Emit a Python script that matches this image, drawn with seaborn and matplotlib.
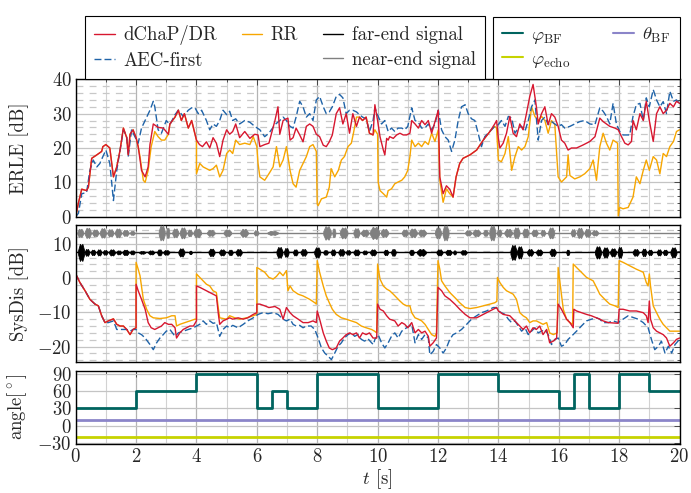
import numpy as np
import matplotlib
matplotlib.use('Agg')
import matplotlib.pyplot as plt
import seaborn as sns
from matplotlib.lines import Line2D
from matplotlib.ticker import MultipleLocator

sns.set_style('white')
plt.rcParams['font.family'] = ['cmr10', 'DejaVu Serif']
plt.rcParams['mathtext.fontset'] = 'cm'
plt.rcParams['axes.formatter.use_mathtext'] = True
plt.rcParams['font.size'] = 13.5

# ---- data (time in s, values in dB / degrees) ----
erle_dr = [(0,0),(0.09,4),(0.2,8),(0.36,7.6),(0.42,8.6),(0.53,17),(0.7,18),(0.86,19),(0.9,20.4),(1.0,21),
    (1.13,20),(1.25,11.6),(1.36,14.5),(1.47,19.4),(1.58,25.8),(1.69,23),(1.74,18),(1.8,24),(1.9,25.3),(2.0,23),
    (2.07,20.4),(2.18,13.5),(2.3,11.6),(2.4,14.5),(2.46,21),(2.57,27),(2.73,26),(2.9,25.8),(3.07,24),(3.12,27),
    (3.29,29),(3.4,31),(3.5,28),(3.6,30),(3.73,25.8),(3.84,28),(3.95,24),(4.0,22.3),(4.1,21),(4.2,20.4),
    (4.33,21.8),(4.44,20),(4.55,23),(4.66,21.4),(4.77,17.5),(4.88,22.3),(5.0,25.3),(5.1,24),(5.2,24.8),(5.3,27),
    (5.43,23),(5.6,24.8),(5.77,22.8),(5.93,24),(6.04,23.8),(6.1,20.4),(6.26,21),(6.4,21.4),(6.6,28),(6.7,32),
    (6.76,24),(6.87,28),(7.03,28.7),(7.1,22.3),(7.2,23),(7.3,25.8),(7.42,23.8),(7.53,21.8),(7.64,26.3),(7.75,27),
    (7.86,26.3),(7.97,24),(8.08,23.3),(8.2,20.8),(8.3,20.4),(8.4,21.8),(8.5,23.8),(8.63,30),(8.74,31.7),(8.85,27),
    (8.96,30),(9.07,24.3),(9.18,30),(9.3,26.3),(9.4,29),(9.5,28),(9.62,29),(9.73,24.3),(9.85,23.8),(9.91,32.6),
    (10.0,28),(10.08,23.3),(10.19,19.4),(10.24,18),(10.3,22.8),(10.35,22.3),(10.4,23.3),(10.52,22.8),(10.63,23.8),
    (10.74,24.3),(10.85,23.8),(10.96,23.8),(11.07,24.3),(11.13,28),(11.24,27),(11.35,25.8),(11.46,28),(11.57,26.8),
    (11.68,28),(11.79,24.3),(11.9,27.7),(12.01,31),(12.06,11.6),(12.17,6.7),(12.28,9),(12.39,8),(12.5,5.7),
    (12.6,11.6),(12.72,15.5),(12.83,17),(13.06,18),(13.28,19.4),(13.5,22.3),(13.72,24.8),(13.88,27),(13.94,28),
    (14.0,22.8),(14.05,20),(14.16,21.4),(14.27,24.3),(14.38,29.2),(14.49,24.3),(14.6,23.3),(14.71,27),(14.82,25.3),
    (14.93,30),(15.04,35),(15.15,38.5),(15.21,35),(15.26,32),(15.32,27),(15.43,30),(15.54,32),(15.65,26.8),
    (15.76,30),(15.87,29),(15.98,26.3),(16.09,22.3),(16.2,21.4),(16.31,19.4),(16.42,20),(16.59,20),(16.81,20.9),
    (17.03,21.9),(17.2,23.3),(17.36,28.7),(17.47,27.7),(17.58,27),(17.69,26.3),(17.86,25.8),(17.97,25.3),
    (18.08,23.3),(18.19,21.4),(18.3,20.9),(18.41,21.9),(18.46,28),(18.57,25.3),(18.69,30),(18.8,28),(18.9,33.6),
    (19.0,28),(19.13,21.9),(19.24,30),(19.35,32),(19.46,30),(19.57,31),(19.68,33),(19.8,32),(19.9,33.6),(20.0,33)]

erle_aec = [(0,0),(0.09,1),(0.2,6.7),(0.36,7),(0.47,13.5),(0.58,16.5),(0.7,14.5),(0.8,15.5),(0.9,17.5),(1.0,19.4),
    (1.13,15.5),(1.25,4.7),(1.36,13.5),(1.47,19.4),(1.58,25.3),(1.69,23.3),(1.74,17.5),(1.85,25.3),(1.96,23.3),
    (2.07,21.4),(2.18,25.8),(2.3,28),(2.46,31),(2.57,33.6),(2.62,32),(2.73,25.3),(2.84,24.3),(3.0,28),(3.12,26.8),
    (3.29,29.7),(3.4,31),(3.56,29.2),(3.73,31),(3.84,31.7),(3.95,31.7),(4.06,30),(4.17,31),(4.33,28),(4.44,25.3),
    (4.55,27),(4.66,26.3),(4.77,28),(4.88,31),(5.0,29.7),(5.1,30.7),(5.2,28),(5.3,28.5),(5.43,27),(5.6,28),
    (5.77,27.5),(5.93,26.3),(6.1,25.3),(6.26,23.3),(6.4,24.3),(6.6,26.8),(6.76,28),(6.87,29),(6.98,28),(7.1,26.3),
    (7.2,25.8),(7.3,29),(7.42,33.6),(7.53,32),(7.64,29),(7.75,30),(7.86,28),(7.97,34),(8.08,35),(8.2,32),(8.3,30),
    (8.4,30.5),(8.5,32),(8.63,35),(8.74,35.6),(8.85,34.6),(8.96,30),(9.07,31),(9.18,31),(9.3,30.5),(9.4,29.7),
    (9.5,29),(9.62,28.5),(9.73,24.8),(9.85,28),(9.91,31.7),(10.02,29.2),(10.13,27),(10.24,28),(10.35,24.8),
    (10.46,25.8),(10.57,24.8),(10.68,25.8),(10.8,25.8),(10.9,25.3),(11.0,26.3),(11.13,31.7),(11.24,28),(11.35,27.5),
    (11.46,25.8),(11.57,25.8),(11.68,27),(11.79,25.3),(11.9,27),(12.01,31),(12.12,25.3),(12.23,23.3),(12.34,22.3),
    (12.45,19),(12.56,22.3),(12.67,28),(12.78,32),(12.9,32.6),(13.0,30),(13.11,28.5),(13.22,28),(13.33,24.3),
    (13.44,20.4),(13.55,23.3),(13.66,24.3),(13.77,25.3),(13.88,26.3),(14.0,26.8),(14.1,28),(14.22,26.3),(14.33,29.2),
    (14.44,28.7),(14.55,24.3),(14.66,25.8),(14.77,26.3),(14.88,24.8),(14.99,28),(15.1,32),(15.21,34),(15.32,22.3),
    (15.43,28),(15.54,29),(15.65,26.8),(15.76,27.7),(15.87,27),(15.98,26.3),(16.09,26.8),(16.2,25.8),(16.37,26.3),
    (16.53,27),(16.7,27.7),(16.86,28),(17.03,27),(17.2,26.8),(17.36,31.7),(17.47,30.7),(17.58,29.2),(17.69,27),
    (17.8,33),(17.91,27),(18.02,24.8),(18.13,23.8),(18.25,23.8),(18.35,23.8),(18.46,29.2),(18.57,32.6),(18.69,33),
    (18.8,28),(18.9,34.6),(19.0,32),(19.13,37),(19.24,34),(19.35,32),(19.46,33.5),(19.57,30),(19.68,36.5),
    (19.8,33.6),(19.9,34),(20.0,33)]

erle_rr = [(0,0),(0.09,4),(0.2,8),(0.36,7.6),(0.42,8.6),(0.53,17),(0.7,18),(0.86,19),(0.9,20.4),(1.0,21),
    (1.13,20),(1.25,11.6),(1.36,14.5),(1.47,19.4),(1.58,25.8),(1.69,23),(1.74,18),(1.8,24),(1.9,25.3),(2.0,23),
    (2.07,20.4),(2.13,17.5),(2.24,10.6),(2.3,10),(2.4,13.5),(2.5,20.4),(2.62,24.8),(2.73,23.3),(2.84,22.3),
    (2.95,22.3),(3.07,24),(3.12,27),(3.29,29),(3.4,31),(3.5,28),(3.6,30),(3.73,25.8),(3.84,28),(3.95,24),(4.0,22.3),
    (4.0,12.5),(4.11,15.5),(4.22,14.5),(4.33,14),(4.44,13.5),(4.55,14),(4.66,15),(4.77,11.6),(4.88,13.5),(5.0,18.4),
    (5.1,19.4),(5.2,18.4),(5.3,22.3),(5.43,21),(5.6,21.4),(5.77,21),(5.88,23.3),(6.0,20.4),(6.04,15.5),(6.1,11.6),
    (6.26,10.6),(6.4,12.5),(6.54,14.5),(6.65,20.4),(6.76,14.5),(6.87,16.5),(6.98,20.4),(7.1,13.5),(7.2,9.6),
    (7.3,8.6),(7.42,13.5),(7.53,15.5),(7.64,17.5),(7.75,20.4),(7.86,21),(7.97,19),(8.0,3.7),(8.03,3.2),(8.14,5.2),
    (8.3,5.7),(8.4,8.6),(8.46,14),(8.58,11.6),(8.7,13.5),(8.8,16.5),(8.9,17.5),(9.02,20.4),(9.13,21.4),(9.2,24.3),
    (9.3,29),(9.4,29),(9.5,28),(9.62,29),(9.73,24.3),(9.85,23.8),(9.91,25.3),(10.0,24),(10.02,10),(10.08,7.6),
    (10.19,6.7),(10.3,5.7),(10.35,7.6),(10.46,8.1),(10.57,9.6),(10.68,10.1),(10.8,10.6),(10.9,11.6),(11.0,13.5),
    (11.07,17.5),(11.13,22.3),(11.24,20.4),(11.35,21.4),(11.46,20.4),(11.57,21.9),(11.68,21),(11.79,24.3),
    (11.9,21.9),(12.01,25.3),(12.06,10.6),(12.17,4.2),(12.28,8.1),(12.39,6.7),(12.5,5.7),(12.6,11.6),(12.72,15.5),
    (12.83,17),(13.06,18),(13.28,19.4),(13.5,22.3),(13.72,24.8),(13.88,26.3),(13.94,25.8),(14.0,16.5),(14.1,16),
    (14.22,18.4),(14.33,23.3),(14.44,13.5),(14.55,17.5),(14.66,20.4),(14.77,19.4),(14.88,20.4),(14.99,23.3),
    (15.1,32),(15.21,29.2),(15.32,28),(15.43,29.2),(15.54,28),(15.65,24.3),(15.76,28),(15.87,26.8),(15.98,11.6),
    (16.09,10.1),(16.26,11.6),(16.31,18),(16.37,12),(16.53,11),(16.7,11.6),(16.86,12.5),(17.03,14),(17.14,16.5),
    (17.25,10.6),(17.36,20.4),(17.47,24.3),(17.58,21.4),(17.69,19.4),(17.8,22.3),(17.95,21.4),(17.97,0.2),
    (18.02,2.7),(18.13,2.3),(18.3,2.7),(18.46,5.7),(18.57,11.6),(18.69,9.6),(18.8,13.5),(18.9,16.5),(19.0,13.5),
    (19.13,17.5),(19.24,16.5),(19.35,12.5),(19.46,18.4),(19.57,17.5),(19.68,20.4),(19.8,21.9),(19.9,24.8),(20.0,25.3)]

sysdis_dr = [(0,1.2),(0.14,-1.3),(0.31,-3.7),(0.47,-6.2),(0.64,-7.6),(0.75,-8.1),(0.86,-11),(0.97,-13),(1.08,-12.5),
    (1.25,-11.9),(1.36,-13.5),(1.47,-14),(1.58,-14),(1.69,-15),(1.8,-16.5),(1.9,-15),(2.0,-14.5),(2.0,-1.8),
    (2.07,-3.7),(2.18,-6.2),(2.3,-9.1),(2.4,-13),(2.5,-14.5),(2.62,-15),(2.73,-14.5),(2.84,-14),(2.95,-13),
    (3.07,-13.5),(3.18,-13.5),(3.29,-14.5),(3.34,-17.5),(3.45,-16),(3.56,-15),(3.67,-14.5),(3.78,-14),(3.9,-14),
    (4.0,-12.5),(4.0,-2.3),(4.11,-2.7),(4.22,-3.2),(4.33,-3.7),(4.44,-4.2),(4.55,-4.7),(4.66,-5.2),(4.72,-10.1),
    (4.77,-13.5),(4.88,-12.5),(5.0,-12),(5.1,-11.6),(5.2,-12),(5.38,-11.6),(5.55,-12),(5.7,-11.6),(5.88,-10.6),
    (6.0,-10.1),(6.0,-7.6),(6.1,-7.6),(6.26,-8.1),(6.4,-8.6),(6.6,-8.3),(6.76,-9.1),(6.87,-12),(6.98,-8.6),
    (7.1,-10.1),(7.2,-11),(7.37,-12),(7.53,-13),(7.7,-13),(7.86,-12.5),(7.97,-13),(8.0,-9.6),(8.08,-12),(8.2,-16),
    (8.3,-18.4),(8.4,-20.4),(8.5,-20.9),(8.63,-20.4),(8.74,-18.4),(8.85,-17.5),(8.96,-16.5),(9.07,-16),(9.18,-16.5),
    (9.3,-16),(9.4,-17.5),(9.5,-16),(9.62,-16.5),(9.73,-16),(9.85,-17.5),(9.97,-17.5),(10.0,-7.6),(10.08,-9.1),
    (10.19,-9.6),(10.3,-11),(10.4,-12),(10.57,-12.5),(10.68,-14),(10.8,-13),(10.9,-13.5),(11.0,-14.5),(11.13,-13),
    (11.24,-16),(11.35,-15),(11.46,-16),(11.57,-15.5),(11.68,-17),(11.73,-19.9),(11.84,-18.9),(11.95,-17.5),
    (12.0,-2.7),(12.12,-3.7),(12.23,-5.2),(12.39,-6.2),(12.56,-7.6),(12.72,-9.1),(12.9,-10.6),(13.06,-11.6),
    (13.28,-11.6),(13.5,-10.6),(13.72,-9.6),(13.94,-8.6),(14.0,-9.6),(14.16,-10.6),(14.38,-11),(14.49,-12),
    (14.6,-13),(14.71,-14),(14.82,-15),(14.93,-14),(15.04,-16),(15.15,-14.5),(15.26,-15),(15.37,-14),(15.48,-16.5),
    (15.6,-15),(15.7,-18.9),(15.82,-18.4),(15.93,-17.5),(15.98,-7.6),(16.09,-9.1),(16.26,-12),(16.37,-13),
    (16.48,-14.5),(16.5,-9.1),(16.59,-9.6),(16.75,-10.1),(16.92,-10.6),(17.08,-11),(17.25,-11.6),(17.36,-12),
    (17.47,-12.5),(17.64,-13),(17.97,-13.2),(18.0,-9.1),(18.13,-9.1),(18.35,-9.6),(18.57,-9.6),(18.8,-10.1),
    (18.9,-11),(18.96,-13),(19.0,-6.7),(19.04,-12),(19.13,-14.5),(19.24,-15.5),(19.35,-16),(19.46,-16.5),
    (19.57,-17.5),(19.68,-19.9),(19.8,-18.9),(19.9,-17.9),(20.0,-17.5)]

sysdis_rr = [(0,1.2),(0.14,-1.3),(0.31,-3.7),(0.47,-6.2),(0.64,-7.6),(0.75,-8.1),(0.86,-11),(0.97,-13),(1.08,-12.5),
    (1.25,-11.9),(1.36,-13.5),(1.47,-14),(1.58,-14),(1.69,-15),(1.8,-16.5),(1.9,-15),(2.0,-14.5),(2.0,4.6),
    (2.07,2.6),(2.13,0.7),(2.24,-6.2),(2.35,-9.1),(2.46,-11),(2.57,-11.6),(2.79,-11.8),(3.0,-11.6),(3.18,-11),
    (3.29,-11),(3.34,-14),(3.45,-13.5),(3.62,-13),(3.78,-12.5),(3.95,-12),(4.0,-12),(4.0,1.2),(4.11,0.2),(4.22,-0.8),
    (4.33,-1.8),(4.44,-2.3),(4.55,-3.7),(4.66,-4.2),(4.72,-8.6),(4.77,-11.6),(5.0,-12),(5.1,-11),(5.27,-11.6),
    (5.43,-12),(5.66,-11.6),(5.88,-11),(6.0,-10.6),(6.0,3.1),(6.1,2.6),(6.26,1.7),(6.4,0.2),(6.54,-0.3),(6.65,0.5),
    (6.76,1.7),(6.87,0.7),(6.98,2.2),(7.03,-3.7),(7.1,-2.3),(7.2,-3.7),(7.37,-4.7),(7.53,-5.2),(7.75,-6.2),
    (7.92,-7.2),(7.97,-7.6),(8.0,5.1),(8.08,1.7),(8.2,-2.3),(8.3,-5.2),(8.4,-7.2),(8.5,-9.1),(8.63,-10.6),
    (8.8,-11.6),(8.96,-12),(9.13,-12.5),(9.3,-13),(9.46,-14),(9.62,-14.5),(9.8,-15),(9.9,-15.5),(9.97,-16),
    (10.0,4.1),(10.08,-0.3),(10.19,-2.3),(10.3,-3.2),(10.4,-3.7),(10.52,-4.7),(10.63,-5.7),(10.74,-6.7),
    (10.85,-7.6),(10.96,-8.1),(11.07,-8.1),(11.13,-10.1),(11.24,-11.6),(11.35,-12),(11.46,-12.5),(11.57,-13.5),
    (11.68,-15),(11.79,-16.5),(11.9,-17),(11.95,-16),(12.0,5.1),(12.06,2.6),(12.12,-0.8),(12.23,-2.3),(12.39,-4.2),
    (12.56,-5.7),(12.72,-7.2),(12.9,-8.6),(13.06,-8.9),(13.28,-8.6),(13.5,-8.1),(13.72,-7.6),(13.88,-7.2),
    (13.95,-6.8),(13.97,0.2),(14.05,-1.3),(14.16,-2.7),(14.27,-3.7),(14.38,-4.2),(14.49,-4.7),(14.6,-6.2),
    (14.71,-10.1),(14.82,-11),(14.93,-11.6),(15.04,-13),(15.15,-12.5),(15.26,-12.5),(15.37,-13),(15.48,-13.5),
    (15.6,-13),(15.7,-16),(15.82,-16.5),(15.95,-16),(15.98,3.1),(16.04,-1.3),(16.15,-9.1),(16.26,-12),(16.37,-13),
    (16.46,-13.5),(16.48,4.1),(16.59,3.1),(16.75,1.7),(16.92,0.2),(17.03,-0.3),(17.14,-0.8),(17.25,-2.7),
    (17.36,-4.7),(17.47,-5.7),(17.58,-6.7),(17.69,-7.6),(17.86,-8.1),(17.97,-8.6),(18.0,5.1),(18.13,4.6),
    (18.35,3.6),(18.57,2.6),(18.8,1.7),(18.9,-1.3),(18.96,-2.3),(19.0,1.2),(19.04,-2.3),(19.13,-8.1),(19.24,-10.1),
    (19.35,-12),(19.46,-13.5),(19.57,-14.5),(19.68,-15.5),(19.8,-15.5),(20.0,-15.5)]

sysdis_aec = [(0,1.2),(0.14,-1.3),(0.31,-3.7),(0.47,-6.2),(0.64,-7.6),(0.75,-8.1),(0.86,-11),(0.97,-13),(1.08,-13),
    (1.25,-12.5),(1.36,-15),(1.47,-15),(1.58,-15),(1.69,-15),(1.8,-15.5),(1.9,-15),(2.0,-15),(2.07,-16),(2.18,-16.5),
    (2.3,-17.5),(2.46,-19.4),(2.57,-20.9),(2.68,-18.9),(2.79,-17.5),(2.9,-16.5),(3.0,-15.5),(3.12,-15),(3.29,-17),
    (3.4,-16),(3.56,-15.5),(3.73,-15),(3.9,-14.5),(4.0,-14),(4.11,-13.5),(4.22,-12.5),(4.33,-13.5),(4.44,-12.5),
    (4.55,-13.2),(4.66,-13),(4.77,-17),(4.88,-15),(5.0,-14),(5.1,-14.5),(5.2,-13.8),(5.38,-14.5),(5.55,-13.5),
    (5.7,-12.5),(5.88,-11.6),(6.04,-10.6),(6.2,-10.1),(6.37,-10.4),(6.54,-10.1),(6.7,-10.6),(6.87,-12),(6.98,-12.5),
    (7.1,-12),(7.2,-13.5),(7.3,-14),(7.42,-13.8),(7.53,-14.5),(7.64,-14),(7.8,-14),(7.92,-15),(8.03,-17.5),
    (8.14,-20.4),(8.25,-21.9),(8.36,-22.8),(8.47,-23.8),(8.58,-21.9),(8.69,-19.9),(8.8,-18.9),(8.9,-17.5),
    (9.02,-16.5),(9.13,-16),(9.24,-17),(9.35,-16.5),(9.46,-17.9),(9.57,-18.4),(9.68,-17.7),(9.8,-18.9),(9.86,-19.4),
    (9.91,-17.9),(10.02,-16.5),(10.13,-18.9),(10.24,-20.4),(10.35,-18.9),(10.46,-17),(10.57,-16),(10.68,-17.5),
    (10.8,-15.5),(10.96,-14.5),(11.13,-13.5),(11.24,-18.9),(11.35,-16.5),(11.46,-17.9),(11.57,-16.5),(11.68,-17.5),
    (11.73,-22.4),(11.84,-21.4),(11.95,-19.4),(12.06,-20.4),(12.17,-21.9),(12.28,-20.4),(12.39,-17.9),(12.5,-16.5),
    (12.62,-16),(12.78,-15),(12.95,-13.5),(13.11,-12),(13.28,-11),(13.44,-10.1),(13.61,-9.6),(13.83,-8.6),
    (13.94,-8.6),(14.0,-9.6),(14.1,-10.1),(14.22,-10.6),(14.33,-12),(14.44,-13),(14.55,-12.5),(14.66,-14),
    (14.77,-15.5),(14.88,-14.5),(14.99,-16.5),(15.1,-15.5),(15.21,-14.5),(15.32,-16),(15.43,-15.5),(15.54,-15),
    (15.65,-16.5),(15.76,-19.4),(15.87,-17.9),(15.98,-17.5),(16.09,-19.9),(16.2,-19.4),(16.31,-17.9),(16.42,-17),
    (16.59,-15.5),(16.75,-14),(16.92,-12.5),(17.08,-12),(17.25,-11.6),(17.36,-12),(17.47,-13),(17.64,-13),
    (17.8,-12.5),(17.97,-13),(18.13,-12),(18.3,-11),(18.46,-11.5),(18.63,-12),(18.8,-13),(18.96,-14.5),
    (19.07,-17.9),(19.18,-20.9),(19.3,-19.9),(19.4,-18.4),(19.52,-21.9),(19.63,-19.9),(19.74,-21.9),(19.85,-19.4),
    (20.0,-17.9)]

# speech bursts of the signals: (start s, end s, half amplitude in dB)
far_end_level = 7.5
far_end_bursts = [(0.08,0.28,2.5),(0.3,0.45,1.0),(0.5,0.65,0.8),(0.7,0.85,0.9),(0.9,1.05,0.7),(1.1,1.3,0.9),
    (1.35,1.5,0.6),(1.55,1.75,0.8),(1.8,1.95,0.6),(2.1,2.3,0.4),(2.4,2.6,0.6),(2.7,2.85,0.9),(2.9,3.1,0.7),
    (3.4,3.6,1.2),(3.75,3.85,0.5),(4.4,4.6,1.1),(4.75,4.95,0.9),(5.05,5.2,0.8),(5.3,5.5,1.0),(6.65,6.85,1.6),
    (6.9,7.05,1.3),(7.2,7.35,0.9),(7.45,7.65,1.0),(7.9,8.1,1.5),(8.2,8.35,0.7),(8.45,8.6,0.9),(8.7,8.9,1.0),
    (8.95,9.1,0.7),(9.2,9.4,0.9),(9.5,9.65,0.6),(9.75,9.95,0.9),(10.2,10.35,0.8),(10.45,10.6,1.0),(11.05,11.2,0.8),
    (11.3,11.6,1.0),(11.95,12.15,0.9),(12.25,12.45,0.8),(12.5,12.6,0.6),(12.75,12.95,0.7),(14.4,14.6,2.2),
    (14.62,14.8,1.8),(14.95,15.15,1.0),(15.25,15.45,0.9),(15.7,15.9,1.1),(16.25,16.35,0.8),(17.2,17.4,1.8),
    (17.45,17.65,1.5),(17.7,17.9,1.2),(17.95,18.1,1.6),(18.45,18.65,1.0),(18.75,18.9,1.1),(18.95,19.1,0.8),
    (19.25,19.4,0.9),(19.45,19.6,0.8),(19.7,19.9,1.5)]
near_end_level = 13.2
near_end_bursts = [(0.05,0.25,1.2),(0.3,0.5,1.5),(0.55,0.75,1.0),(0.8,1.0,1.4),(1.05,1.25,1.1),(1.3,1.5,1.3),
    (1.55,1.75,0.9),(1.8,1.95,0.6),(2.75,2.95,2.2),(3.0,3.1,1.5),(3.2,3.4,1.3),(3.45,3.65,1.6),(3.7,3.85,1.0),
    (3.9,4.15,1.3),(4.35,4.6,0.9),(4.9,5.15,1.0),(5.45,5.7,1.2),(5.9,6.05,0.8),(6.35,6.7,0.6),(8.2,8.45,2.0),
    (8.5,8.6,1.3),(8.75,9.0,1.6),(9.2,9.4,1.4),(9.45,9.7,1.0),(9.75,10.05,1.8),(10.1,10.35,1.2),(10.8,11.0,1.0),
    (11.05,11.3,1.3),(11.35,11.6,1.0),(11.9,12.1,1.6),(12.15,12.35,2.2),(12.9,13.1,0.8),(13.15,13.4,1.0),
    (13.5,13.65,0.9),(13.7,13.9,2.2),(13.95,14.1,1.0),(14.2,14.45,1.2),(14.5,14.7,1.6),(14.8,15.0,1.3),
    (15.1,15.3,1.0),(15.4,15.55,0.9),(15.65,15.85,1.6),(16.4,16.55,1.1),(16.6,16.8,1.5),(16.85,17.05,1.2),
    (17.1,17.3,0.8)]

# angles
phi_bf_t = [0, 2, 4, 6, 6.5, 7, 8, 10, 12, 14, 16, 16.5, 17, 18, 19, 20]
phi_bf_deg = [30, 60, 90, 30, 60, 30, 90, 30, 90, 60, 30, 90, 30, 90, 60, 60]
theta_bf_deg = 10
phi_echo_deg = -20

c_dr = '#d7172f'
c_aec = '#1f63a8'
c_rr = '#f7a600'
c_far = 'black'
c_near = '#808080'
c_phi = '#00645f'
c_theta = '#8b85c9'
c_echo = '#c6d300'
aec_dash = (0, (5, 2.2))

fig = plt.figure(figsize=(6.91, 4.93), dpi=100)
W, H = 691, 493
ax1 = fig.add_axes([75.7 / W, (H - 216.7) / H, 603.8 / W, 137.4 / H])
ax2 = fig.add_axes([75.7 / W, (H - 362) / H, 603.8 / W, 137 / H])
ax3 = fig.add_axes([75.7 / W, (H - 444) / H, 603.8 / W, 73.3 / H])


def line(ax, pairs, color, ls='-', lw=1.0):
    t, v = np.array(pairs, dtype=float).T
    sns.lineplot(x=t, y=v, ax=ax, color=color, linestyle=ls, lw=lw,
                 estimator=None, sort=False, legend=False)


def signal(ax, level, bursts, color):
    sns.lineplot(x=[0, 20], y=[level, level], ax=ax, color=color, lw=1.0,
                 estimator=None, legend=False)
    for a, b, amp in bursts:
        w = b - a
        xs = [a, a + 0.3 * w, a + 0.5 * w, b - 0.3 * w, b]
        half = [0.25 * amp, amp, 0.75 * amp, amp, 0.25 * amp]
        ax.fill_between(xs, [level - h for h in half], [level + h for h in half],
                        color=color, lw=0.6, zorder=3)


def style(ax, ylim, ymaj, ymin=None, xlabels=False):
    ax.set_xlim(0, 20)
    ax.set_ylim(*ylim)
    ax.xaxis.set_major_locator(MultipleLocator(2))
    ax.xaxis.set_minor_locator(MultipleLocator(1))
    ax.yaxis.set_major_locator(MultipleLocator(ymaj))
    if ymin:
        ax.yaxis.set_minor_locator(MultipleLocator(ymin))
    ax.set_axisbelow(True)
    ax.grid(True, which='major', axis='x', color='#b4b4b4', lw=0.9)
    ax.grid(True, which='minor', axis='x', color='#d2d2d2', lw=0.8)
    ax.grid(True, which='major', axis='y', color='#c4c4c4', lw=0.9)
    if ymin:
        ax.grid(True, which='minor', axis='y', color='#c8c8c8', lw=0.9,
                linestyle=(0, (5.5, 5)))
    ax.tick_params(which='both', direction='in', top=True, right=True,
                   color='#333333', width=0.6)
    ax.tick_params(which='major', length=4)
    ax.tick_params(which='minor', length=2.5)
    ax.tick_params(axis='both', labelsize=13.5, pad=3)
    if not xlabels:
        ax.tick_params(axis='x', labelbottom=False)
    for s in ax.spines.values():
        s.set_color('black')
        s.set_linewidth(1.0)
    ax.set_xlabel('')


# ERLE
line(ax1, erle_rr, c_rr)
line(ax1, erle_aec, c_aec, ls=aec_dash)
line(ax1, erle_dr, c_dr)
style(ax1, (0, 40), 10, 2)
ax1.set_ylabel('ERLE [dB]')

# SysDis
signal(ax2, near_end_level, near_end_bursts, c_near)
signal(ax2, far_end_level, far_end_bursts, c_far)
line(ax2, sysdis_rr, c_rr)
line(ax2, sysdis_aec, c_aec, ls=aec_dash)
line(ax2, sysdis_dr, c_dr)
style(ax2, (-24.5, 15.5), 10, 2)
ax2.set_ylabel('SysDis [dB]')

# angles
sns.lineplot(x=phi_bf_t, y=phi_bf_deg, ax=ax3, color=c_phi, lw=2.0,
             drawstyle='steps-post', estimator=None, legend=False)
sns.lineplot(x=[0, 20], y=[theta_bf_deg, theta_bf_deg], ax=ax3, color=c_theta,
             lw=2.0, estimator=None, legend=False)
sns.lineplot(x=[0, 20], y=[phi_echo_deg, phi_echo_deg], ax=ax3, color=c_echo,
             lw=2.0, estimator=None, legend=False)
style(ax3, (-32, 96), 30, xlabels=True)
ax3.set_yticks([-30, 0, 30, 60, 90])
ax3.set_ylabel(r'angle[$^\circ$]')
ax3.set_xlabel(r'$t$ [s]', labelpad=1)

for ax in (ax1, ax2, ax3):
    ax.yaxis.set_label_coords(-0.077, 0.5)

# legends
h_left = [Line2D([], [], color=c_dr, lw=1.0),
          Line2D([], [], color=c_aec, lw=1.0, linestyle=aec_dash),
          Line2D([], [], color=c_rr, lw=1.0),
          Line2D([], [], color='none'),
          Line2D([], [], color=c_far, lw=1.0),
          Line2D([], [], color=c_near, lw=1.0)]
l_left = ['dChaP/DR', 'AEC-first', 'RR', '', 'far-end signal', 'near-end signal']
leg1 = fig.legend(h_left, l_left, ncol=3, loc='lower left',
                  bbox_to_anchor=(85 / W, (H - 79) / H), borderaxespad=0,
                  fancybox=False, framealpha=1, edgecolor='black',
                  handlelength=1.1, handletextpad=0.45, columnspacing=1.3,
                  labelspacing=0.35, borderpad=0.5, fontsize=13.5)
leg1.get_frame().set_linewidth(0.8)

h_right = [Line2D([], [], color=c_phi, lw=1.5),
           Line2D([], [], color=c_echo, lw=1.5),
           Line2D([], [], color=c_theta, lw=1.5)]
l_right = [r'$\varphi_{\mathrm{BF}}$', r'$\varphi_{\mathrm{echo}}$', r'$\theta_{\mathrm{BF}}$']
leg2 = fig.legend(h_right, l_right, ncol=2, loc='lower right',
                  bbox_to_anchor=(680 / W, (H - 79) / H), borderaxespad=0,
                  fancybox=False, framealpha=1, edgecolor='black',
                  handlelength=1.1, handletextpad=0.45, columnspacing=2.3,
                  labelspacing=0.2, borderpad=0.5, fontsize=13.5)
leg2.get_frame().set_linewidth(0.8)

fig.savefig('out.png', dpi=100)
